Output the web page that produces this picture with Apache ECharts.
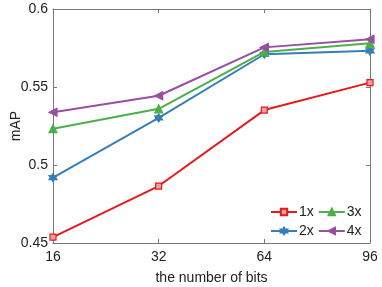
<!DOCTYPE html>
<html><head><meta charset="utf-8">
<script src="https://cdn.jsdelivr.net/npm/echarts@6/dist/echarts.min.js"></script>
<style>html,body{margin:0;padding:0;background:#fff}#c{width:382px;height:287px}</style>
</head><body><div id="c"></div>
<script>
const categories = ['16', '32', '64', '96'];
const s1x = [0.4538, 0.4865, 0.5352, 0.5528];
const s2x = [0.4919, 0.5302, 0.5710, 0.5732];
const s3x = [0.5233, 0.5360, 0.5725, 0.5780];
const s4x = [0.5338, 0.5444, 0.5754, 0.5806];
const yTicks = [0.45, 0.5, 0.55, 0.6];

const hexagram = 'path://M100,0 L128.9,50 L186.6,50 L157.7,100 L186.6,150 L128.9,150 L100,200 L71.1,150 L13.4,150 L42.3,100 L13.4,50 L71.1,50 Z';
const triLeft = 'path://M0,50 L100,0 L100,100 Z';
const triUp = 'path://M50,0 L100,87 L0,87 Z';
const font = 'Liberation Sans, Arial, sans-serif';

function mk(name, data, color, symbol, size, fill) {
  return {
    name, type: 'line', data, symbol, symbolSize: size,
    lineStyle: { color, width: 2 },
    itemStyle: { color: fill || color, borderColor: color, borderWidth: 1.2 },
    z: 3
  };
}

const chart = echarts.init(document.getElementById('c'), null, { renderer: 'canvas' });
const axisLine = { show: true, lineStyle: { color: '#777', width: 1 } };
chart.setOption({
  animation: false,
  grid: { left: 53, right: 12, top: 9, bottom: 44, containLabel: false, outerBoundsMode: 'none' },
  xAxis: [{
    type: 'category', data: categories, boundaryGap: false,
    axisLine, axisTick: { show: true, inside: true, length: 4, lineStyle: { color: '#777' } },
    axisLabel: { color: '#222', fontSize: 14, fontFamily: font, margin: 7 },
    name: 'the number of bits', nameLocation: 'middle', nameGap: 28, nameMoveOverlap: false,
    nameTextStyle: { color: '#222', fontSize: 14, fontFamily: font },
    splitLine: { show: false }
  }, {
    type: 'category', data: categories, boundaryGap: false, position: 'top',
    axisLine, axisTick: { show: true, inside: true, length: 4, lineStyle: { color: '#777' } },
    axisLabel: { show: false }
  }],
  yAxis: [{
    type: 'value', min: 0.45, max: 0.6, interval: 0.05,
    axisLine, axisTick: { show: true, inside: true, length: 4, lineStyle: { color: '#777' } },
    axisLabel: { color: '#222', fontSize: 14, fontFamily: font, margin: 5,
      formatter: v => { const t = yTicks.find(x => Math.abs(x - v) < 1e-9); return t === undefined ? '' : String(t); } },
    name: 'mAP', nameLocation: 'middle', nameGap: 30, nameRotate: 90, nameMoveOverlap: false,
    nameTextStyle: { color: '#222', fontSize: 14, fontFamily: font },
    splitLine: { show: false }
  }, {
    type: 'value', min: 0.45, max: 0.6, interval: 0.05, position: 'right',
    axisLine, axisTick: { show: true, inside: true, length: 4, lineStyle: { color: '#777' } },
    axisLabel: { show: false }, splitLine: { show: false }
  }],
  legend: [{
    data: ['1x', '3x'], left: 265, top: 200, itemWidth: 26, itemHeight: 8, itemGap: 4,
    textStyle: { color: '#222', fontSize: 14, fontFamily: font, padding: [0, 0, 0, -3] }
  }, {
    data: ['2x', '4x'], left: 265, top: 219, itemWidth: 26, itemHeight: 8, itemGap: 4,
    textStyle: { color: '#222', fontSize: 14, fontFamily: font, padding: [0, 0, 0, -3] }
  }],
  series: [
    mk('1x', s1x, '#e41a1c', 'rect', 6, '#f5a0a0'),
    mk('2x', s2x, '#377eb8', hexagram, 8),
    mk('3x', s3x, '#4daf4a', triUp, 8),
    mk('4x', s4x, '#984ea3', triLeft, 8)
  ]
});
</script></body></html>
